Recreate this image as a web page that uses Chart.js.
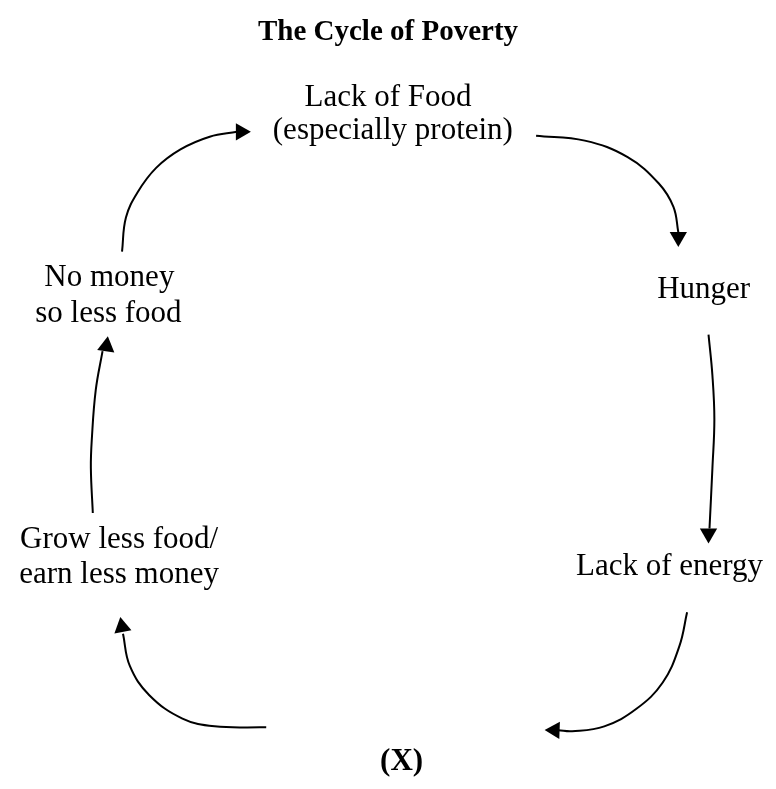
<!DOCTYPE html>
<html>
<head>
<meta charset="utf-8">
<script src="https://cdn.jsdelivr.net/npm/chart.js@4.4.1/dist/chart.umd.min.js"></script>
<style>
  html, body { margin: 0; padding: 0; background: #fff; }
  #wrap { width: 776px; height: 789px; }
</style>
</head>
<body>
<div id="wrap"><canvas id="chart" width="776" height="789"></canvas></div>
<script>
// diagram space: x 0..776, y 0..789 counted from the top
const titleText = 'The Cycle of Poverty';
const titleAt = [388, 31];

// text of each box, one entry per line, with its centre x and baseline y
const nodeLines = ['Lack of Food', '(especially protein)', 'Hunger', 'Lack of energy', '(X)',
                   'Grow less food/', 'earn less money', 'No money', 'so less food'];
const nodeX = [388, 393, 712, 677, 402, 112, 112, 102, 101];
const nodeY = [98, 132, 295, 580, 780, 552, 588, 283, 320];

// arrow paths (tail -> head)
const arrowFoodToHunger = [[540, 129], [590, 134], [634, 151], [666, 178], [681, 202], [686, 228]];
const arrowHungerToEnergy = [[717, 333], [721, 375], [723, 420], [721, 470], [718, 532]];
const arrowEnergyToX = [[695, 618], [687, 653], [670, 690], [643, 717], [610, 735], [577, 740], [563, 739]];
const arrowXToGrow = [[263, 736], [210, 735], [177, 727], [143, 703], [123, 673], [116, 640]];
const arrowGrowToMoney = [[85, 516], [83, 470], [84, 440], [88, 390], [95, 350]];
const arrowMoneyToFood = [[115, 248], [119, 213], [131, 187], [150, 162], [175, 143], [205, 130], [233, 125]];

// arrow heads and the way they point (degrees, 0 = up, clockwise)
const headPoints = [[686, 233], [717, 537], [559, 739], [115, 633], [99, 345], [237, 125]];
const headAngles = [180, 180, 272, 350, 8, 90];

const arrows = [arrowFoodToHunger, arrowHungerToEnergy, arrowEnergyToX,
                arrowXToGrow, arrowGrowToMoney, arrowMoneyToFood];

const toXY = pts => pts.map(([x, y]) => ({ x: x, y: y }));

const datasets = arrows.map(path => ({
    data: toXY(path),
    showLine: true,
    borderColor: '#000',
    borderWidth: 2,
    pointRadius: 0,
    tension: 0.4,
    fill: false
}));

datasets.push({
    data: toXY(headPoints),
    showLine: false,
    pointStyle: 'triangle',
    pointRadius: 10,
    pointRotation: headAngles,
    backgroundColor: '#000',
    borderColor: '#000',
    borderWidth: 0
});

// writes the title and the box texts at their diagram positions
const labelPlugin = {
    id: 'labels',
    afterDatasetsDraw(chart) {
        const ctx = chart.ctx;
        const sx = chart.scales.x, sy = chart.scales.y;
        ctx.save();
        ctx.fillStyle = '#000';
        ctx.textAlign = 'center';
        ctx.textBaseline = 'alphabetic';

        ctx.font = 'bold 29px "Liberation Serif", "Times New Roman", serif';
        ctx.fillText(titleText, sx.getPixelForValue(titleAt[0]), sy.getPixelForValue(titleAt[1]));

        nodeLines.forEach((txt, i) => {
            const bold = txt === '(X)';
            ctx.font = (bold ? 'bold ' : '') + '31px "Liberation Serif", "Times New Roman", serif';
            ctx.fillText(txt, sx.getPixelForValue(nodeX[i]), sy.getPixelForValue(nodeY[i]));
        });
        ctx.restore();
    }
};

new Chart(document.getElementById('chart').getContext('2d'), {
    type: 'scatter',
    data: { datasets: datasets },
    options: {
        responsive: false,
        maintainAspectRatio: false,
        animation: false,
        events: [],
        layout: { padding: 0 },
        plugins: {
            legend: { display: false },
            tooltip: { enabled: false },
            title: { display: false }
        },
        scales: {
            x: { type: 'linear', min: 0, max: 776, display: false },
            y: { type: 'linear', min: 0, max: 789, reverse: true, display: false }
        }
    },
    plugins: [labelPlugin]
});
</script>
</body>
</html>
